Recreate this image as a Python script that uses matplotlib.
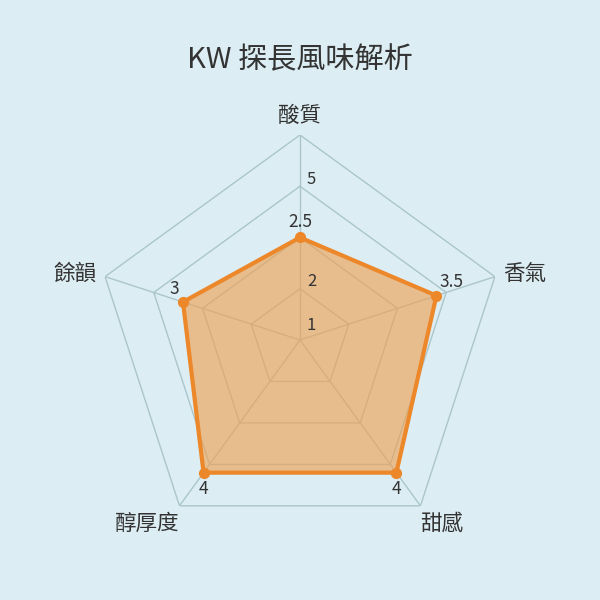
import numpy as np
import matplotlib
matplotlib.use("Agg")
import matplotlib.pyplot as plt

plt.rcParams['font.family'] = ['Noto Sans CJK TC', 'DejaVu Sans']

title = "KW 探長風味解析"
categories = ["酸質", "香氣", "甜感", "醇厚度", "餘韻"]
values = [2.5, 3.5, 4, 4, 3]
value_labels = ["2.5", "3.5", "4", "4", "3"]
max_value = 5
ring_levels = [1.25, 2.5, 3.75, 5]
tick_labels = ["1", "2", "5"]
tick_levels = [0, 1.25, 3.75]

bg = "#dcedf3"
grid_c = "#aac6cb"
line_c = "#ec872a"
fill_c = "#f0a050"
text_c = "#333333"

fig = plt.figure(figsize=(6, 6), dpi=100, facecolor=bg)
ax = fig.add_axes([0.1583, 0.0917, 0.6833, 0.6833], projection="polar")
ax.set_theta_offset(np.pi / 2)
ax.set_theta_direction(-1)
ax.set_ylim(0, max_value)
ax.patch.set_alpha(0)
ax.spines['polar'].set_visible(False)
ax.grid(False)
ax.set_xticks([])
ax.set_yticks([])

n = len(categories)
angles = np.linspace(0, 2 * np.pi, n, endpoint=False)
closed = np.concatenate([angles, angles[:1]])

for lv in ring_levels:
    ax.plot(closed, [lv] * (n + 1), color=grid_c, lw=1.0, zorder=1)
for a in angles:
    ax.plot([a, a], [0, max_value], color=grid_c, lw=1.0, zorder=1)

vals = np.array(values + values[:1], dtype=float)
ax.fill(closed, vals, color=fill_c, alpha=0.62, zorder=2, lw=0)
ax.plot(closed, vals, color=line_c, lw=3, zorder=3, solid_joinstyle='miter')
ax.scatter(angles, values, s=65, color=line_c, zorder=4, lw=0)

# value labels (pixel offsets)
val_offsets = [(0, 11.5), (11, 9.5), (0, -11.5), (0, -11.5), (-6, 9.5)]
for a, v, lab, off in zip(angles, values, value_labels, val_offsets):
    ax.annotate(lab, xy=(a, v), xytext=off, textcoords="offset points",
                ha="center", va="center", fontsize=12.5, color=text_c, zorder=5)

# axis tick labels along top axis
tick_offsets = [(5, 10.5), (5, 5.4), (5, 5.2)]
for lv, lab, off in zip(tick_levels, tick_labels, tick_offsets):
    ax.annotate(lab, xy=(0, lv), xytext=off, textcoords="offset points",
                ha="left", va="center", fontsize=12, color=text_c, zorder=5)

# category labels
cat_style = [
    dict(off=(0, 5.5), ha="center", va="bottom"),
    dict(off=(6, 2), ha="left", va="center"),
    dict(off=(0, -5), ha="left", va="top"),
    dict(off=(0, -5), ha="right", va="top"),
    dict(off=(-6, 2), ha="right", va="center"),
]
for a, c, st in zip(angles, categories, cat_style):
    ax.annotate(c, xy=(a, max_value), xytext=st["off"], textcoords="offset points",
                ha=st["ha"], va=st["va"], fontsize=15.5, color=text_c,
                annotation_clip=False)

fig.text(0.5, 0.9, title, ha="center", va="center", fontsize=21, color=text_c)

fig.savefig("out.png", dpi=100, facecolor=bg)
